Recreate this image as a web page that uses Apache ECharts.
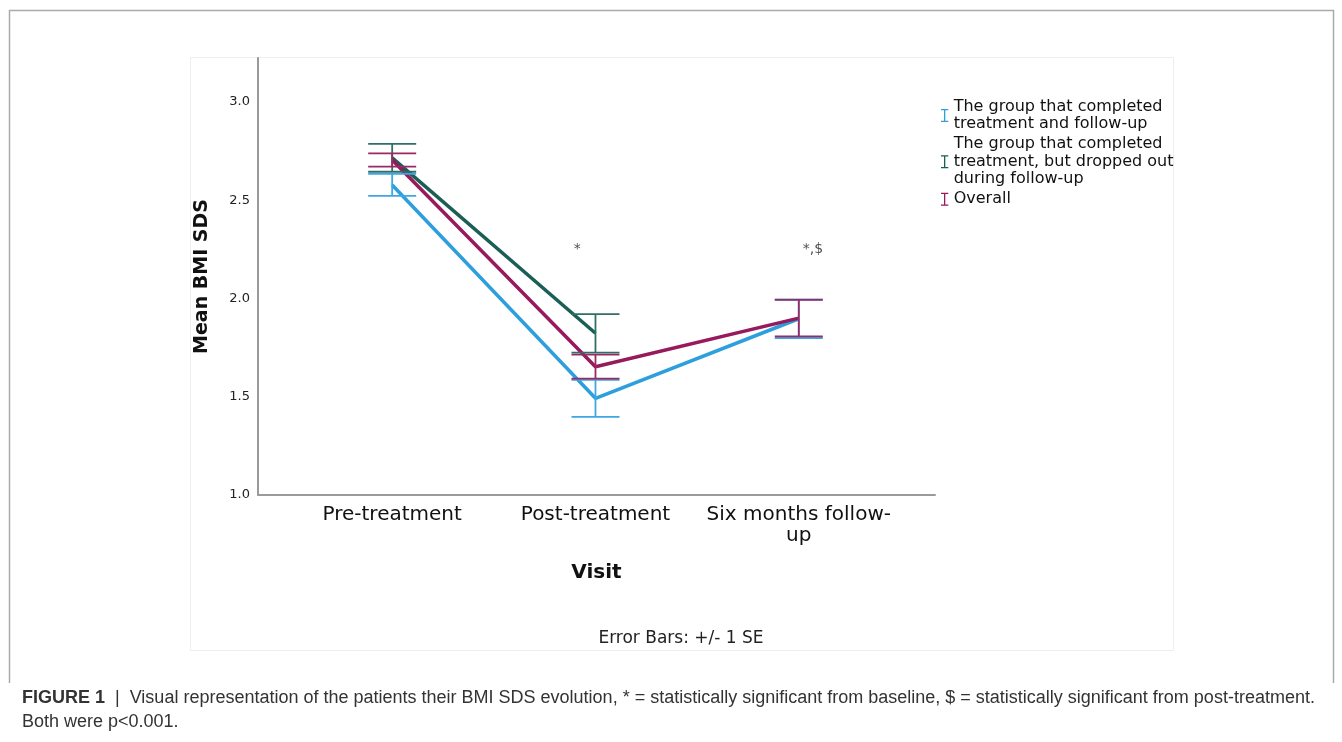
<!DOCTYPE html>
<html>
<head>
<meta charset="utf-8">
<script src="https://cdn.jsdelivr.net/npm/echarts@6/dist/echarts.min.js"></script>
<style>
  html, body { margin: 0; padding: 0; background: #fff; }
  #chart { width: 1342px; height: 742px; }
</style>
</head>
<body>
<div id="chart"></div>
<script>
// visits on the x axis (0, 1, 2)
const visits = ['Pre-treatment', 'Post-treatment', 'Six months follow-\nup']
const visitPos = [0, 1, 2]
const yTicks = [1.0, 1.5, 2.0, 2.5, 3.0]

// mean BMI SDS and standard error per group
const completedMean = [2.578, 1.492, 1.897]
const completedSE = [0.056, 0.094, 0.098]
const droppedMean = [2.716, 1.823]
const droppedSE = [0.071, 0.098]
const overallMean = [2.705, 1.653, 1.900]
const overallSE = [0.034, 0.061, 0.093]

// significance marks
const markX = [0.91, 2.07]
const markY = [2.25, 2.25]
const markText = ['*', '*,$']

const names = [
  'The group that completed\ntreatment and follow-up',
  'The group that completed\ntreatment, but dropped out\nduring follow-up',
  'Overall'
]
const lineColors = ['#2c9fdc', '#1b5e55', '#961a5c']
const barColors = ['#3ea6e0', '#2f6f68', '#9a2a64']

const font = 'DejaVu Sans, Verdana, sans-serif'

function pts(mean) {
  return mean.map((m, i) => [visitPos[i], m])
}
function bars(mean, se) {
  return mean.map((m, i) => [visitPos[i], m - se[i], m + se[i]])
}

function errorBar(color) {
  return function (params, api) {
    const x = api.value(0)
    const lo = api.coord([x, api.value(1)])
    const hi = api.coord([x, api.value(2)])
    const hw = 24
    const style = { stroke: color, lineWidth: 1.8 }
    return {
      type: 'group',
      children: [
        { type: 'line', shape: { x1: hi[0], y1: hi[1], x2: lo[0], y2: lo[1] }, style: style },
        { type: 'line', shape: { x1: hi[0] - hw, y1: hi[1], x2: hi[0] + hw, y2: hi[1] }, style: style },
        { type: 'line', shape: { x1: lo[0] - hw, y1: lo[1], x2: lo[0] + hw, y2: lo[1] }, style: style }
      ]
    }
  }
}

const groups = [
  { mean: completedMean, se: completedSE },
  { mean: droppedMean, se: droppedSE },
  { mean: overallMean, se: overallSE }
]

const series = []
groups.forEach((g, i) => {
  series.push({
    name: names[i],
    type: 'line',
    data: pts(g.mean),
    symbol: 'none',
    color: lineColors[i],
    lineStyle: { width: 3.5, color: lineColors[i] },
    z: 3 + i,
    animation: false
  })
})
groups.forEach((g, i) => {
  series.push({
    name: names[i],
    type: 'custom',
    data: bars(g.mean, g.se),
    renderItem: errorBar(barColors[i]),
    z: 10 + i,
    animation: false
  })
})
series.push({
  type: 'scatter',
  data: markX.map((x, i) => [x, markY[i], markText[i]]),
  symbolSize: 0,
  silent: true,
  label: {
    show: true,
    position: 'inside',
    formatter: p => p.value[2],
    color: '#222',
    fontFamily: font,
    fontSize: 14
  },
  animation: false
})

const chart = echarts.init(document.getElementById('chart'))
chart.setOption({
  backgroundColor: '#fff',
  animation: false,
  grid: { left: 258, right: 407, top: 58, bottom: 247 },
  legend: {
    orient: 'vertical',
    left: 936,
    top: 93,
    selectedMode: false,
    itemWidth: 8,
    itemHeight: 13,
    itemGap: 2.5,
    icon: 'path://M0,0H9V1.6H5.3V14.4H9V16H0V14.4H3.7V1.6H0Z',
    data: names,
    textStyle: { fontFamily: font, fontSize: 16, lineHeight: 17.5, color: '#111' }
  },
  xAxis: {
    type: 'value',
    min: -0.66,
    max: 2.67,
    name: 'Visit',
    nameLocation: 'middle',
    nameGap: 68,
    nameTextStyle: { fontFamily: font, fontSize: 20, fontWeight: 'bold', color: '#111' },
    axisLine: { onZero: false, lineStyle: { color: '#9a9a9a', width: 2 } },
    axisTick: { show: false },
    splitLine: { show: false },
    axisLabel: {
      customValues: visitPos,
      formatter: v => visits[Math.round(v)],
      fontFamily: font,
      fontSize: 20,
      lineHeight: 21,
      color: '#111',
      margin: 9
    }
  },
  yAxis: {
    type: 'value',
    min: 1,
    max: 3.224,
    name: 'Mean BMI SDS',
    nameLocation: 'middle',
    nameGap: 46,
    nameTextStyle: { fontFamily: font, fontSize: 19, fontWeight: 'bold', color: '#111' },
    axisLine: { show: true, onZero: false, lineStyle: { color: '#9a9a9a', width: 2 } },
    axisTick: { show: false },
    splitLine: { show: false },
    axisLabel: {
      customValues: yTicks,
      formatter: v => v.toFixed(1),
      fontFamily: font,
      fontSize: 13,
      color: '#222',
      margin: 8
    }
  },
  graphic: [
    {
      type: 'polyline',
      shape: { points: [[9.5, 683], [9.5, 10.5], [1333.5, 10.5], [1333.5, 683]] },
      style: { stroke: '#aaaaaa', lineWidth: 1.5, fill: null },
      silent: true
    },
    {
      type: 'rect',
      shape: { x: 190.5, y: 57.5, width: 983, height: 593 },
      style: { stroke: '#eeeeee', lineWidth: 1, fill: null },
      silent: true
    },
    {
      type: 'text',
      x: 681,
      y: 630,
      style: {
        text: 'Error Bars: +/- 1 SE',
        textAlign: 'center',
        font: '17px ' + font,
        fill: '#222'
      }
    },
    {
      type: 'text',
      left: 22,
      top: 686,
      style: {
        text: '{b|FIGURE 1}  |  Visual representation of the patients their BMI SDS evolution, * = statistically significant from baseline, $ = statistically significant from post-treatment.\nBoth were p<0.001.',
        fontFamily: 'Liberation Sans, Arial, sans-serif',
        fontSize: 18,
        lineHeight: 24,
        fill: '#333',
        rich: {
          b: { fontWeight: 'bold', fontFamily: 'Liberation Sans, Arial, sans-serif', fontSize: 18, fill: '#333' }
        }
      }
    }
  ],
  series: series
})
</script>
</body>
</html>
